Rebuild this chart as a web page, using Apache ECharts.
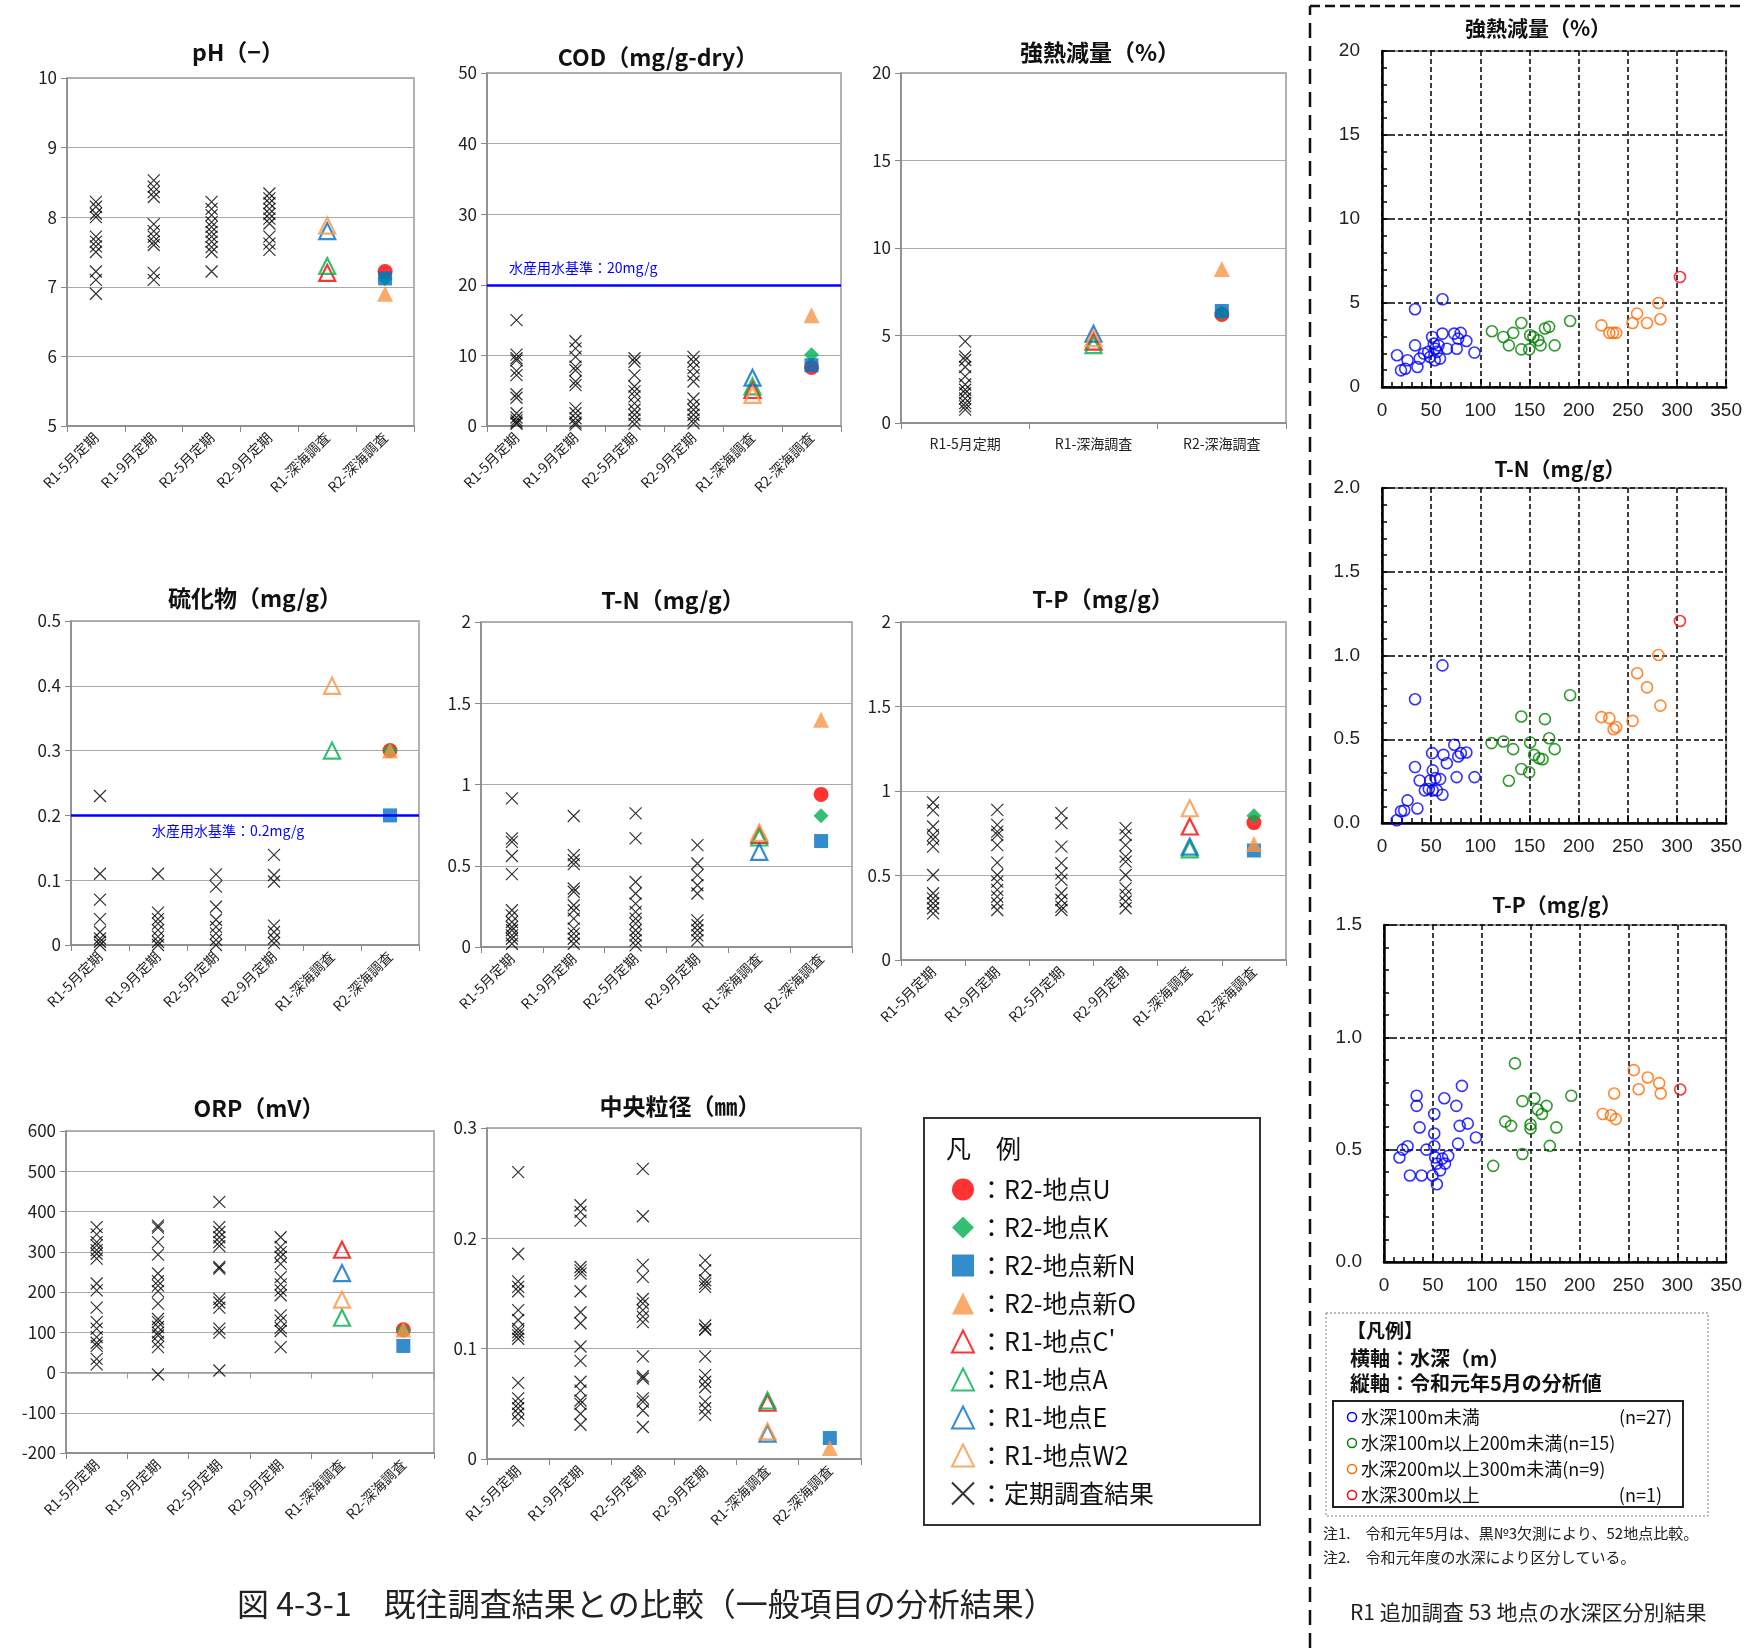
<!DOCTYPE html>
<html lang="ja">
<head>
<meta charset="utf-8">
<title>既往調査結果との比較</title>
<script src="https://cdn.jsdelivr.net/npm/echarts@6.0.0/dist/echarts.min.js"></script>
<style>
  html, body { margin: 0; padding: 0; background: #fff; }
  #chart { width: 1745px; height: 1648px; }
</style>
</head>
<body>
<div id="chart"></div>
<script>
const FONT = '"Noto Sans CJK JP", "Noto Sans", sans-serif';
const NUM_FONT = '"Liberation Sans", Arial, sans-serif';

const categories = ['R1-5月定期', 'R1-9月定期', 'R2-5月定期', 'R2-9月定期', 'R1-深海調査', 'R2-深海調査'];
const ignCategories = ['R1-5月定期', 'R1-深海調査', 'R2-深海調査'];

// 定期調査結果 (×): one list per regular survey
// R1 list order: C', A, E, W2   R2 list order: U, K, 新N, 新O
const phCross = [
  [8.22, 8.15, 8.05, 8.0, 7.72, 7.65, 7.58, 7.5, 7.22, 7.1, 6.9],
  [8.53, 8.44, 8.36, 8.29, 7.9, 7.8, 7.72, 7.65, 7.6, 7.2, 7.1],
  [8.22, 8.12, 8.03, 7.93, 7.86, 7.79, 7.72, 7.65, 7.57, 7.5, 7.22],
  [8.34, 8.27, 8.2, 8.12, 8.05, 7.98, 7.91, 7.72, 7.62, 7.53]
];
const phR1 = [7.2, 7.3, 7.8, 7.88];
const phR2 = [7.22, 7.12, 7.12, 6.9];

const codCross = [
  [15.0, 10.1, 9.6, 9.3, 7.8, 7.2, 4.5, 4.0, 1.8, 1.2, 0.8, 0.5, 0.3],
  [12.0, 11.0, 9.8, 8.4, 7.9, 6.3, 5.8, 2.5, 1.8, 1.1, 0.5, 0.2],
  [9.6, 9.1, 7.2, 5.6, 4.9, 4.2, 3.2, 2.3, 1.6, 0.9, 0.3],
  [9.8, 9.1, 8.2, 7.2, 6.3, 3.9, 3.0, 2.3, 1.6, 0.9, 0.4]
];
const codR1 = [5.1, 5.6, 6.85, 4.4];
const codR2 = [8.3, 10.1, 8.6, 15.7];

const ignCross = [
  [4.66, 3.8, 3.6, 3.2, 2.66, 2.2, 1.9, 1.7, 1.4, 1.14, 0.95, 0.76]
];
const ignR1 = [4.65, 4.45, 5.1, 4.85];
const ignR2 = [6.2, 6.3, 6.4, 8.8];

const sulCross = [
  [0.23, 0.11, 0.07, 0.04, 0.02, 0.01, 0.005, 0.0],
  [0.11, 0.05, 0.04, 0.033, 0.023, 0.013, 0.005, 0.0],
  [0.109, 0.09, 0.059, 0.039, 0.028, 0.018, 0.008, 0.0],
  [0.139, 0.108, 0.098, 0.03, 0.02, 0.01, 0.003]
];
const sulR1 = [null, 0.3, null, 0.4];
const sulR2 = [0.3, 0.3, 0.2, 0.3];

const tnCross = [
  [0.915, 0.668, 0.647, 0.56, 0.448, 0.226, 0.195, 0.154, 0.123, 0.103, 0.072, 0.051, 0.02],
  [0.806, 0.565, 0.534, 0.51, 0.36, 0.34, 0.257, 0.226, 0.175, 0.113, 0.082, 0.051, 0.02],
  [0.822, 0.668, 0.4, 0.329, 0.267, 0.216, 0.175, 0.144, 0.103, 0.072, 0.041, 0.01],
  [0.627, 0.514, 0.442, 0.38, 0.329, 0.164, 0.134, 0.103, 0.072, 0.041]
];
const tnR1 = [0.69, 0.674, 0.586, 0.703];
const tnR2 = [0.939, 0.808, 0.652, 1.398];

const tpCross = [
  [0.932, 0.885, 0.79, 0.74, 0.715, 0.671, 0.503, 0.395, 0.365, 0.336, 0.306, 0.276],
  [0.888, 0.8, 0.76, 0.74, 0.68, 0.576, 0.503, 0.464, 0.415, 0.375, 0.336, 0.296],
  [0.869, 0.81, 0.671, 0.573, 0.513, 0.474, 0.395, 0.355, 0.316, 0.296],
  [0.78, 0.74, 0.68, 0.612, 0.582, 0.503, 0.424, 0.385, 0.346, 0.306]
];
const tpR1 = [0.79, 0.655, 0.671, 0.898];
const tpR2 = [0.813, 0.853, 0.648, 0.687];

const orpCross = [
  [361, 343, 324, 316, 304, 295, 283, 221, 204, 161, 125, 109, 88, 74, 66, 34, 20],
  [365, 360, 324, 293, 246, 227, 216, 202, 171, 133, 125, 113, 99, 92, 76, 63, -5],
  [424, 361, 349, 336, 324, 314, 262, 258, 183, 174, 161, 109, 99, 5],
  [336, 312, 299, 287, 270, 237, 219, 204, 192, 142, 129, 111, 103, 63]
];
const orpR1 = [305, 136, 247, 181];
const orpR2 = [106, 105, 66, 107];

const grainCross = [
  [0.260, 0.186, 0.161, 0.156, 0.152, 0.135, 0.126, 0.118, 0.115, 0.112, 0.109, 0.069, 0.055, 0.050, 0.046, 0.041, 0.035],
  [0.230, 0.224, 0.216, 0.174, 0.171, 0.168, 0.152, 0.133, 0.123, 0.102, 0.089, 0.070, 0.062, 0.053, 0.050, 0.041, 0.031],
  [0.263, 0.220, 0.176, 0.165, 0.145, 0.141, 0.135, 0.129, 0.124, 0.093, 0.075, 0.073, 0.055, 0.052, 0.044, 0.029],
  [0.180, 0.171, 0.162, 0.159, 0.156, 0.121, 0.118, 0.117, 0.093, 0.076, 0.070, 0.065, 0.052, 0.046, 0.040]
];
const grainR1 = [0.051, 0.053, 0.023, 0.025];
const grainR2 = [null, null, 0.019, 0.010];

// R1 追加調査: [水深(m), 分析値]
const ignBlue = [[33.6, 4.63], [61.5, 5.22], [15.3, 1.89], [19.3, 0.99], [23.6, 1.09], [26, 1.59], [36, 1.19], [33.6, 2.48], [38.3, 1.69], [42.6, 1.99], [47, 2.09], [51, 2.98], [52.6, 2.58], [54, 2.28], [49, 1.79], [53.6, 1.59], [59, 1.69], [61.5, 3.18], [66, 2.28], [73.5, 3.18], [76, 2.28], [77.5, 2.88], [80, 3.22], [85.8, 2.74], [94, 2.05], [55.9, 2.09], [57.5, 2.48]];
const ignGreen = [[111.8, 3.32], [123.4, 2.98], [129, 2.48], [133.4, 3.22], [141.7, 3.81], [141.7, 2.24], [149.7, 2.24], [150.7, 3.08], [154, 2.98], [159, 2.78], [161.3, 2.48], [165.7, 3.48], [170, 3.58], [175.6, 2.48], [191.3, 3.93]];
const ignOrange = [[223.2, 3.67], [231.2, 3.22], [234.9, 3.22], [238.2, 3.22], [254.8, 3.81], [259.4, 4.37], [269.5, 3.81], [281.1, 5.0], [283.1, 4.03]];
const ignRed = [[303, 6.55]];

const tnBlue = [[61.5, 0.941], [33.6, 0.739], [15, 0.016], [19.3, 0.07], [22.6, 0.075], [26, 0.135], [36, 0.087], [33.6, 0.334], [38.3, 0.254], [43.6, 0.195], [47.6, 0.203], [51, 0.417], [51.6, 0.314], [49, 0.254], [51.6, 0.195], [54.3, 0.268], [55.9, 0.195], [59.2, 0.262], [61.5, 0.169], [62.5, 0.407], [65.9, 0.357], [73.5, 0.467], [75.9, 0.274], [77.5, 0.397], [80.2, 0.417], [85.8, 0.421], [94.1, 0.274]];
const tnGreen = [[111.4, 0.477], [123.4, 0.487], [133.4, 0.441], [129, 0.252], [141.7, 0.636], [141.7, 0.322], [149.7, 0.302], [150.7, 0.481], [154.7, 0.407], [159.7, 0.387], [163.3, 0.381], [165.7, 0.62], [170, 0.506], [175.6, 0.441], [191.3, 0.763]];
const tnOrange = [[223.2, 0.632], [231.2, 0.626], [235.5, 0.56], [238.2, 0.572], [254.8, 0.61], [259.5, 0.894], [269.5, 0.81], [281.1, 1.003], [283.1, 0.701]];
const tnRed = [[303, 1.206]];

const tpBlue = [[15.8, 0.465], [19.1, 0.5], [24.1, 0.515], [26.5, 0.385], [33.4, 0.74], [33.4, 0.695], [36.4, 0.599], [38.4, 0.385], [43.4, 0.5], [49.7, 0.385], [51.4, 0.659], [51.4, 0.572], [51.4, 0.515], [54.1, 0.346], [52.4, 0.465], [54.1, 0.438], [57.4, 0.408], [59.7, 0.46], [62.4, 0.438], [65.7, 0.472], [61.7, 0.729], [74, 0.695], [75.7, 0.527], [77.4, 0.606], [79.7, 0.784], [85.7, 0.616], [94, 0.554]];
const tpGreen = [[111.7, 0.428], [124, 0.625], [130, 0.606], [134, 0.884], [141.6, 0.716], [141.6, 0.481], [149.9, 0.612], [149.9, 0.594], [153.9, 0.729], [157.3, 0.679], [161.6, 0.659], [166.3, 0.695], [169.6, 0.517], [176.3, 0.599], [191.6, 0.74]];
const tpOrange = [[223.8, 0.659], [232.1, 0.653], [237.1, 0.636], [235.5, 0.75], [255.5, 0.854], [260.5, 0.769], [269.8, 0.821], [281.5, 0.796], [283.1, 0.75]];
const tpRed = [[303, 0.768]];

const CROSS = 'path://M0,0L10,10M10,0L0,10';

const r1Stations = [
  { name: "R1-地点C'", color: '#ff0000' },
  { name: 'R1-地点A', color: '#00b050' },
  { name: 'R1-地点E', color: '#0070c0' },
  { name: 'R1-地点W2', color: '#f79646' }
];
const r2Stations = [
  { name: 'R2-地点U', symbol: 'circle', color: '#ff0000', size: 15 },
  { name: 'R2-地点K', symbol: 'diamond', color: '#00b050', size: 15 },
  { name: 'R2-地点新N', symbol: 'rect', color: '#0070c0', size: 14 },
  { name: 'R2-地点新O', symbol: 'triangle', color: '#f79646', size: 16 }
];
const CROSS_NAME = '定期調査結果';

const leftPanels = [
  { title: 'pH（−）', titleAt: [238, 52], box: [67, 78, 347, 348], cats: categories,
    cross: phCross, r1: phR1, r2: phR2, min: 5, max: 10, interval: 1 },
  { title: 'COD（mg/g-dry）', titleAt: [658, 57], box: [487, 73, 354, 353], cats: categories,
    cross: codCross, r1: codR1, r2: codR2, min: 0, max: 50, interval: 10,
    ref: { value: 20, text: '水産用水基準：20mg/g', pos: 'insideStartTop', dist: [22, 10] } },
  { title: '強熱減量（%）', titleAt: [1100, 52], box: [901, 73, 385, 350], cats: ignCategories,
    cross: ignCross, r1: ignR1, r2: ignR2, min: 0, max: 20, interval: 5, flat: true },
  { title: '硫化物（mg/g）', titleAt: [255, 598], box: [71, 621, 348, 324], cats: categories,
    cross: sulCross, r1: sulR1, r2: sulR2, min: 0, max: 0.5, interval: 0.1,
    ref: { value: 0.2, text: '水産用水基準：0.2mg/g', pos: 'insideStartBottom', dist: [81, 8] } },
  { title: 'T-N（mg/g）', titleAt: [673, 600], box: [481, 622, 371, 325], cats: categories,
    cross: tnCross, r1: tnR1, r2: tnR2, min: 0, max: 2, interval: 0.5 },
  { title: 'T-P（mg/g）', titleAt: [1103, 599], box: [901, 622, 385, 338], cats: categories,
    cross: tpCross, r1: tpR1, r2: tpR2, min: 0, max: 2, interval: 0.5 },
  { title: 'ORP（mV）', titleAt: [259, 1108], box: [66, 1131, 368, 322], cats: categories,
    cross: orpCross, r1: orpR1, r2: orpR2, min: -200, max: 600, interval: 100, zeroAxis: true },
  { title: '中央粒径（㎜）', titleAt: [680, 1106], box: [487, 1128, 374, 331], cats: categories,
    cross: grainCross, r1: grainR1, r2: grainR2, min: 0, max: 0.3, interval: 0.1 }
];

const depthGroups = [
  { name: '水深100m未満', color: '#0000ff' },
  { name: '水深100m以上200m未満', color: '#008000' },
  { name: '水深200m以上300m未満', color: '#ff6a00' },
  { name: '水深300m以上', color: '#ff0000' }
];
const rightPanels = [
  { title: '強熱減量（%）', titleAt: [1538, 28], box: [1382, 51, 352, 336],
    sets: [ignBlue, ignGreen, ignOrange, ignRed], min: 0, max: 20, interval: 5, digits: 0 },
  { title: 'T-N（mg/g）', titleAt: [1560, 469], box: [1382, 488, 352, 335],
    sets: [tnBlue, tnGreen, tnOrange, tnRed], min: 0, max: 2, interval: 0.5, digits: 1 },
  { title: 'T-P（mg/g）', titleAt: [1557, 905], box: [1384, 925, 352, 337],
    sets: [tpBlue, tpGreen, tpOrange, tpRed], min: 0, max: 1.5, interval: 0.5, digits: 1 }
];

function text(x, y, str, font, extra) {
  return {
    type: 'text', x: x, y: y, silent: true,
    style: Object.assign({
      text: str, font: font, fill: '#111',
      align: 'left', verticalAlign: 'middle',
      textAlign: 'left', textVerticalAlign: 'middle'
    }, extra || {})
  };
}

const grids = [];
const xAxes = [];
const yAxes = [];
const series = [];
const graphics = [];
const extraX = [];

leftPanels.forEach((p, i) => {
  grids.push({ left: p.box[0], top: p.box[1], width: p.box[2], height: p.box[3],
    show: true, borderColor: '#999', borderWidth: 1.5 });
  xAxes.push({
    type: 'category', gridIndex: i, data: p.cats, boundaryGap: true,
    axisLine: { onZero: false, lineStyle: { color: '#888', width: 1.5 } },
    axisTick: { show: true, interval: 0, length: 6, lineStyle: { color: '#888' } },
    axisLabel: p.flat
      ? { interval: 0, fontSize: 14, color: '#222', margin: 14, fontFamily: FONT }
      : { interval: 0, rotate: 45, fontSize: 14, color: '#222', margin: 9, fontFamily: FONT },
    splitLine: { show: false }
  });
  yAxes.push({
    type: 'value', gridIndex: i, min: p.min, max: p.max, interval: p.interval,
    axisLine: { show: true, lineStyle: { color: '#888', width: 1.5 } },
    axisTick: { show: true, length: 6, lineStyle: { color: '#888' } },
    axisLabel: { fontSize: 17, color: '#222', margin: 10, fontFamily: FONT },
    splitLine: { lineStyle: { color: '#aaa', width: 1 } }
  });
  if (p.zeroAxis) {
    extraX.push({
      type: 'category', gridIndex: i, data: p.cats, boundaryGap: true, position: 'top',
      axisLine: { onZero: true, lineStyle: { color: '#999', width: 1.5 } },
      axisTick: { show: true, inside: true, interval: 0, length: 6, lineStyle: { color: '#999' } },
      axisLabel: { show: false }, splitLine: { show: false }
    });
  }
  graphics.push(text(p.titleAt[0], p.titleAt[1], p.title, 'bold 23px ' + FONT,
    { align: 'center', textAlign: 'center' }));

  const crossData = [];
  p.cross.forEach((vals, ci) => vals.forEach(v => crossData.push([ci, v])));
  const crossSeries = {
    name: CROSS_NAME, type: 'scatter', xAxisIndex: i, yAxisIndex: i,
    symbol: CROSS, symbolSize: 12, data: crossData,
    itemStyle: { color: 'rgba(0,0,0,0)', borderColor: '#000', borderWidth: 1.2 }
  };
  if (p.ref) {
    crossSeries.markLine = {
      silent: true, symbol: 'none',
      lineStyle: { color: '#0000ff', width: 2.5, type: 'solid' },
      label: { show: true, position: p.ref.pos, distance: p.ref.dist, formatter: p.ref.text,
        color: '#0000ff', fontSize: 14, fontFamily: FONT },
      data: [{ yAxis: p.ref.value }]
    };
  }
  series.push(crossSeries);

  const r1Cat = p.cats.length - 2;
  const r2Cat = p.cats.length - 1;
  r1Stations.forEach((s, k) => {
    series.push({
      name: s.name, type: 'scatter', xAxisIndex: i, yAxisIndex: i,
      symbol: 'triangle', symbolSize: 16,
      data: p.r1[k] == null ? [] : [[r1Cat, p.r1[k]]],
      itemStyle: { color: 'rgba(255,255,255,0)', borderColor: s.color, borderWidth: 2.2 }
    });
  });
  r2Stations.forEach((s, k) => {
    series.push({
      name: s.name, type: 'scatter', xAxisIndex: i, yAxisIndex: i,
      symbol: s.symbol, symbolSize: s.size,
      data: p.r2[k] == null ? [] : [[r2Cat, p.r2[k]]],
      itemStyle: { color: s.color }
    });
  });
});

rightPanels.forEach((p, j) => {
  const i = leftPanels.length + j;
  grids.push({ left: p.box[0], top: p.box[1], width: p.box[2], height: p.box[3],
    show: true, borderColor: '#999', borderWidth: 2 });
  xAxes.push({
    type: 'value', gridIndex: i, min: 0, max: 350, interval: 50,
    axisLine: { onZero: false, lineStyle: { color: '#000', width: 2.5 } },
    axisTick: { show: true, inside: true, length: 8, lineStyle: { color: '#000', width: 1.5 } },
    minorTick: { show: true, splitNumber: 5, length: 5, lineStyle: { color: '#000', width: 1.5 } },
    axisLabel: { fontSize: 19, color: '#222', margin: 14, fontFamily: NUM_FONT },
    splitLine: { show: true, lineStyle: { color: '#000', width: 1.5, type: [5, 3] } }
  });
  yAxes.push({
    type: 'value', gridIndex: i, min: p.min, max: p.max, interval: p.interval,
    axisLine: { onZero: false, lineStyle: { color: '#000', width: 2.5 } },
    axisTick: { show: true, inside: true, length: 8, lineStyle: { color: '#000', width: 1.5 } },
    minorTick: { show: true, splitNumber: 5, length: 5, lineStyle: { color: '#000', width: 1.5 } },
    axisLabel: { fontSize: 19, color: '#222', margin: 22, fontFamily: NUM_FONT,
      formatter: v => Number(v).toFixed(p.digits) },
    splitLine: { show: true, lineStyle: { color: '#000', width: 1.5, type: [5, 3] } }
  });
  graphics.push(text(p.titleAt[0], p.titleAt[1], p.title, 'bold 21px ' + FONT,
    { align: 'center', textAlign: 'center' }));
  p.sets.forEach((pts, g) => {
    series.push({
      name: depthGroups[g].name, type: 'scatter', xAxisIndex: i, yAxisIndex: i,
      symbol: 'circle', symbolSize: 11, data: pts,
      itemStyle: { color: 'rgba(255,255,255,0)', borderColor: depthGroups[g].color, borderWidth: 1.6 }
    });
  });
});

extraX.forEach(ax => xAxes.push(ax));

// main legend box
graphics.push({ type: 'rect', silent: true, shape: { x: 924, y: 1118, width: 336, height: 407 },
  style: { fill: 'none', stroke: '#333', lineWidth: 2 } });
graphics.push(text(946, 1148, '凡　例', '25px ' + FONT));

// dashed frame of the right-hand block
graphics.push({ type: 'polyline', silent: true, shape: { points: [[1310, 1648], [1310, 6]] },
  style: { stroke: '#111', lineWidth: 2.5, lineDash: [15, 8], fill: 'none' } });
graphics.push({ type: 'polyline', silent: true, shape: { points: [[1310, 6], [1745, 6]] },
  style: { stroke: '#111', lineWidth: 2.5, lineDash: [10, 5], fill: 'none' } });

// right legend
graphics.push({ type: 'rect', silent: true, shape: { x: 1326, y: 1313, width: 382, height: 203 },
  style: { fill: 'none', stroke: '#777', lineWidth: 1, lineDash: [2, 2] } });
graphics.push({ type: 'rect', silent: true, shape: { x: 1333, y: 1401, width: 350, height: 106 },
  style: { fill: 'none', stroke: '#222', lineWidth: 2 } });
graphics.push(text(1347, 1331, '【凡例】', 'bold 19px ' + FONT));
graphics.push(text(1350, 1358, '横軸：水深（m）', 'bold 20px ' + FONT));
graphics.push(text(1350, 1383, '縦軸：令和元年5月の分析値', 'bold 20px ' + FONT));
const legendRows = [1417, 1443, 1469, 1495];
const legendCounts = ['(n=27)', '(n=15)', '(n=9)', '(n=1)'];
depthGroups.forEach((g, k) => {
  const y = legendRows[k];
  graphics.push({ type: 'circle', silent: true, shape: { cx: 1352, cy: y, r: 4.5 },
    style: { fill: 'none', stroke: g.color, lineWidth: 1.5 } });
  if (k === 1 || k === 2) {
    graphics.push(text(1361, y, g.name + legendCounts[k], '18px ' + FONT));
  } else {
    graphics.push(text(1361, y, g.name, '18px ' + FONT));
    graphics.push(text(k === 0 ? 1672 : 1662, y, legendCounts[k], '18px ' + FONT,
      { align: 'right', textAlign: 'right' }));
  }
});
graphics.push(text(1323, 1533, '注1.　令和元年5月は、黒№3欠測により、52地点比較。', '15px ' + FONT, { fill: '#222' }));
graphics.push(text(1323, 1557, '注2.　令和元年度の水深により区分している。', '15px ' + FONT, { fill: '#222' }));
graphics.push(text(1350, 1612, 'R1 追加調査 53 地点の水深区分別結果', '21px ' + FONT, { fill: '#222' }));

// caption
graphics.push(text(237, 1604, '図 4-3-1　既往調査結果との比較（一般項目の分析結果）', '32px ' + FONT, { fill: '#222' }));

const option = {
  animation: false,
  backgroundColor: '#fff',
  textStyle: { fontFamily: FONT },
  grid: grids,
  xAxis: xAxes,
  yAxis: yAxes,
  legend: {
    orient: 'vertical', left: 946, top: 1172,
    itemWidth: 22, itemHeight: 22, itemGap: 13,
    selectedMode: false,
    textStyle: { fontSize: 25, color: '#111', fontFamily: FONT },
    formatter: name => '：' + name,
    data: r2Stations.map(s => s.name).concat(r1Stations.map(s => s.name), [CROSS_NAME])
  },
  series: series,
  graphic: graphics
};

const chart = echarts.init(document.getElementById('chart'), null, { renderer: 'canvas' });
chart.setOption(option);
window.addEventListener('resize', () => chart.resize());
</script>
</body>
</html>
